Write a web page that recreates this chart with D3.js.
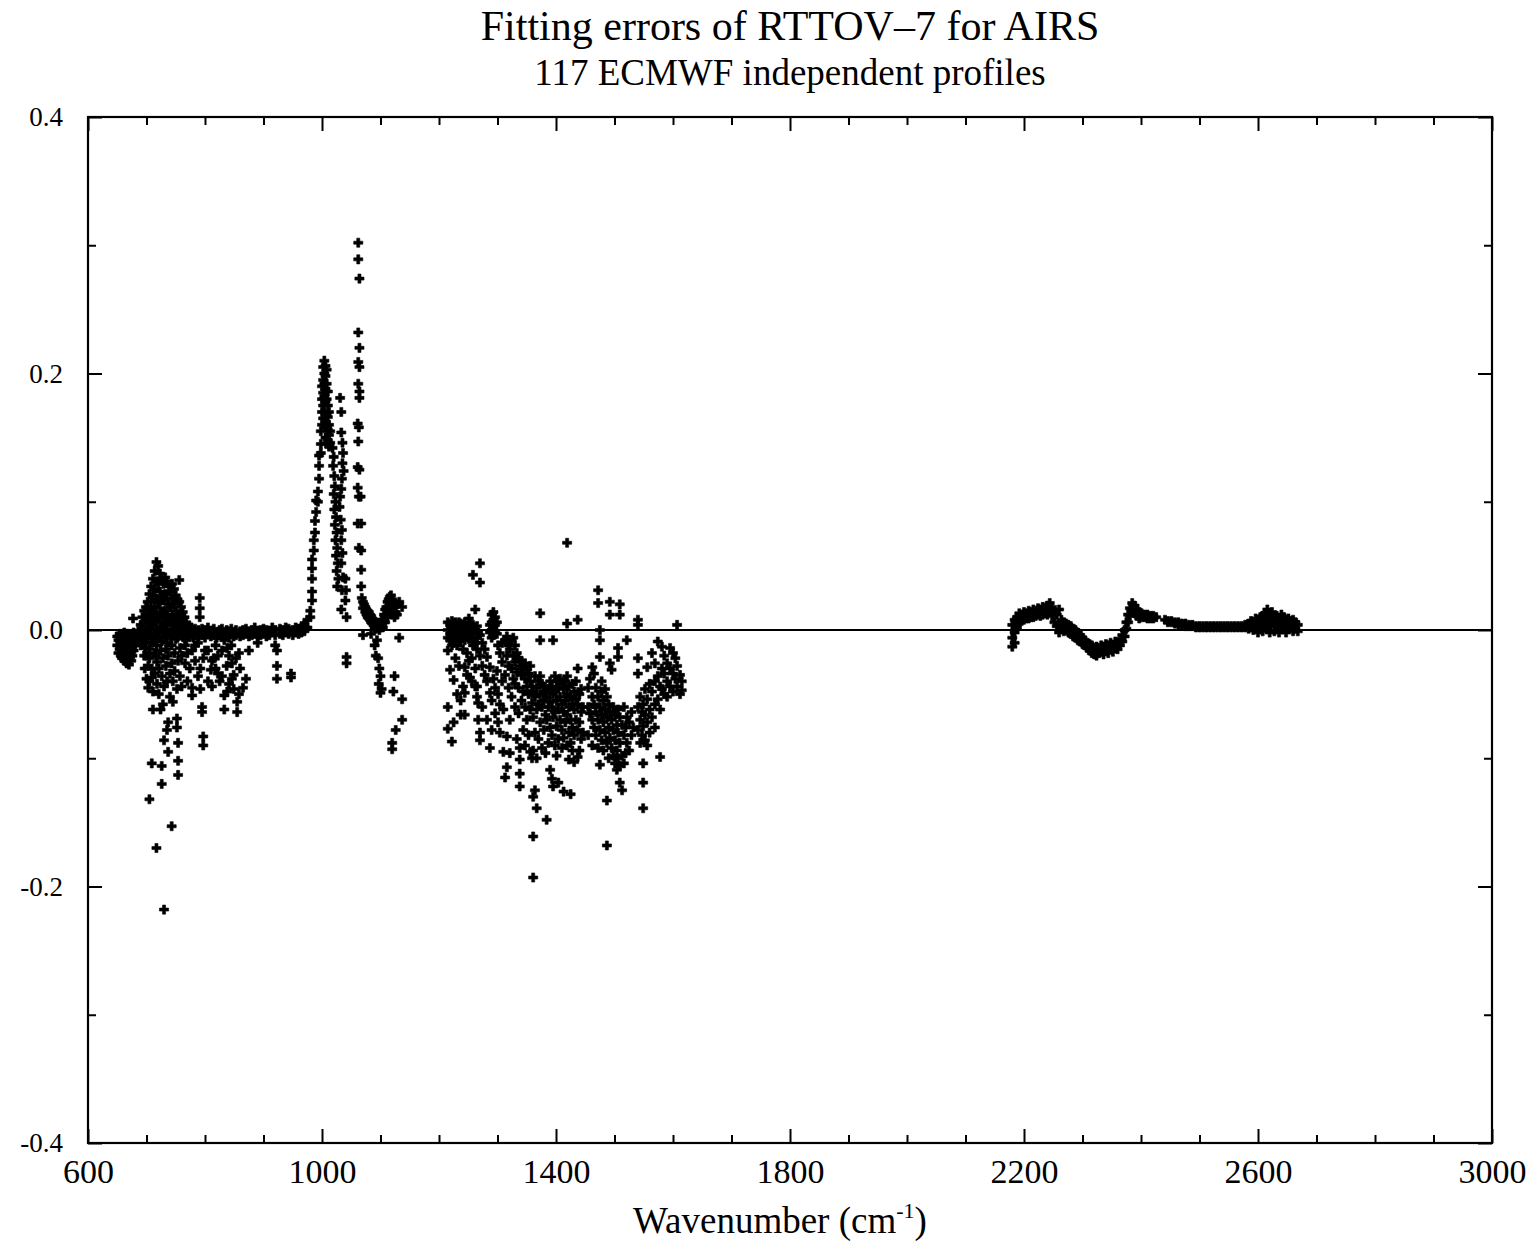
<!DOCTYPE html>
<html lang="en">

<head>
    <meta charset="utf-8">
    <title>Fitting errors of RTTOV-7 for AIRS</title>
    <script src="https://d3js.org/d3.v7.min.js"></script>
    <style>
        body {
            margin: 0;
            padding: 0;
            overflow: hidden;
            background: #fff;
        }
    </style>
</head>

<body>

    <svg id="chart"></svg>

    <script>
        // each entry: [wavenumber, [errors at that wavenumber]]
        const lwBand = [
            [650, [-0.005, -0.012]], [652, [-0.018, -0.008]], [654, [-0.003, -0.015]], [656, [-0.020, -0.010]],
            [658, [-0.004, -0.013, -0.022]], [660, [-0.008, -0.017]], [662, [-0.002, -0.012, -0.024]],
            [664, [-0.006, -0.016, -0.021]], [666, [-0.010, -0.019, -0.026]], [668, [-0.003, -0.014, -0.023]],
            [670, [-0.008, -0.018, -0.027]], [672, [-0.004, -0.012, -0.021]], [674, [-0.009, -0.017, -0.024]],
            [676, [-0.005, -0.013, -0.020]], [678, [-0.002, -0.010, -0.016]], [677, [0.009]],
            [680, [-0.006, -0.012]], [683, [-0.003, -0.009]], [686, [-0.001, -0.006]],
            [690, [0.004, -0.006, -0.012]], [693, [0.010, 0.000, -0.008]], [696, [0.015, 0.005, -0.004, -0.020]],
            [699, [0.018, 0.008, -0.002, -0.010]], [702, [0.022, 0.012, 0.002, -0.006]],
            [705, [0.028, 0.016, 0.006, -0.004, -0.015]], [708, [0.034, 0.022, 0.010, 0.000, -0.010]],
            [711, [0.040, 0.027, 0.014, 0.004, -0.006]], [714, [0.046, 0.032, 0.018, 0.008, -0.003]],
            [717, [0.053, 0.038, 0.024, 0.012, 0.001, -0.008]], [720, [0.050, 0.036, 0.021, 0.009, -0.002]],
            [723, [0.044, 0.030, 0.017, 0.006, -0.005]], [726, [0.040, 0.026, 0.013, 0.002, -0.009]],
            [729, [0.036, 0.023, 0.010, -0.001]], [732, [0.041, 0.028, 0.015, 0.004, -0.006]],
            [735, [0.038, 0.025, 0.012, 0.001, -0.010]], [738, [0.034, 0.020, 0.008, -0.003]],
            [741, [0.030, 0.018, 0.006, -0.005]], [744, [0.036, 0.024, 0.011, 0.000]],
            [747, [0.032, 0.020, 0.008, -0.004]], [750, [0.027, 0.015, 0.004, -0.007]],
            [753, [0.024, 0.012, 0.002, -0.006]], [756, [0.039, 0.022, 0.009, -0.002]],
            [759, [0.018, 0.007, -0.003]], [762, [0.014, 0.004, -0.005]], [765, [0.010, 0.001, -0.006]],
            [768, [0.006, -0.002, -0.008]], [771, [0.003, -0.004]], [774, [0.001, -0.005]], [777, [0.002, -0.003]],
            [780, [0.000, -0.006]], [783, [0.001, -0.004]], [786, [-0.002]], [789, [0.000, -0.005]],
            [791, [0.025, 0.017, 0.010]],
            // scatter below zero
            [697, [-0.014, -0.030]], [700, [-0.020, -0.038]], [703, [-0.045, -0.028]], [705, [-0.132, -0.040, -0.022]],
            [709, [-0.104, -0.037, -0.030]], [711, [-0.062, -0.048]], [714, [-0.018, -0.034]], [716, [-0.020]],
            [717, [-0.170, -0.012]], [718, [-0.025, -0.042]], [721, [-0.030, -0.050]], [724, [-0.016, -0.062]],
            [726, [-0.106, -0.120, -0.036]], [728, [-0.058, -0.022]], [730, [-0.218, -0.086, -0.044]],
            [733, [-0.015, -0.028]], [735, [-0.078, -0.040]], [737, [-0.095, -0.072, -0.020]], [740, [-0.034, -0.052]],
            [743, [-0.153, -0.012, -0.026]], [745, [-0.056, -0.040]], [748, [-0.018, -0.032]],
            [752, [-0.076, -0.069, -0.046]], [754, [-0.113, -0.102, -0.088, -0.024]], [757, [-0.036, -0.014]],
            [760, [-0.044, -0.020]], [766, [-0.012, -0.026]], [770, [-0.040, -0.018]], [774, [-0.030]],
            [778, [-0.051, -0.045, -0.016]], [783, [-0.024, -0.012]], [788, [-0.010, -0.036]],
            [792, [-0.030, -0.046]], [795, [-0.064, -0.060]], [797, [-0.083, -0.090, -0.022]],
            [805, [-0.040, -0.016]], [818, [-0.030, -0.012]], [812, [-0.024, -0.044]], [822, [-0.020, -0.034]],
            [838, [-0.014, -0.048]], [846, [-0.026, -0.038]], [858, [-0.018, -0.050]],
            // window region, near zero
            [795, [0.001, -0.004]], [800, [0.000, -0.006, -0.016]], [805, [0.002, -0.003]], [810, [-0.001, -0.005, -0.031]],
            [815, [0.001, -0.004, -0.022]], [820, [-0.002, -0.006]], [825, [0.000, -0.004, -0.040]],
            [829, [0.001, -0.005, -0.016, -0.036]], [833, [-0.002, -0.008, -0.051, -0.062]], [837, [0.000, -0.004, -0.028]],
            [841, [-0.001, -0.006, -0.020, -0.042]], [845, [0.001, -0.003, -0.012]], [849, [-0.002, -0.005, -0.035, -0.046]],
            [853, [0.000, -0.004, -0.022]], [855, [-0.056, -0.064]], [860, [-0.001, -0.005, -0.030]],
            [865, [0.000, -0.004, -0.045]], [870, [0.001, -0.003, -0.038]], [875, [-0.001, -0.005, -0.016]],
            [880, [0.000, -0.004]], [885, [0.002, -0.003]], [890, [-0.001, -0.005, -0.010]], [895, [0.000, -0.004]],
            [900, [0.001, -0.003]], [905, [0.000, -0.005]], [910, [-0.001, -0.004]], [915, [0.002, -0.002]],
            [920, [0.000, -0.004, -0.012]], [923, [-0.016, -0.028, -0.038]], [928, [0.001, -0.003]],
            [933, [0.000, -0.004]], [938, [0.002, -0.002]], [943, [0.001, -0.003]], [947, [-0.034, -0.037]],
            [950, [0.000, -0.004]], [955, [0.002, -0.002]], [960, [0.001, -0.003]], [965, [0.003, -0.002]],
            [970, [0.004, -0.001]],
            // ozone peak
            [975, [0.008, 0.002]], [980, [0.015, 0.010]], [983, [0.023, 0.030, 0.040, 0.048, 0.055]],
            [986, [0.062, 0.070]], [988, [0.076, 0.085]], [990, [0.092, 0.101]], [993, [0.100, 0.108]],
            [995, [0.118, 0.128, 0.136]], [998, [0.138, 0.145, 0.155]], [1000, [0.160, 0.170, 0.180, 0.190]],
            [1002, [0.165, 0.175, 0.185, 0.195, 0.205]], [1004, [0.170, 0.182, 0.192, 0.200, 0.210]],
            [1006, [0.150, 0.162, 0.178, 0.188, 0.198, 0.206]], [1008, [0.145, 0.158, 0.168, 0.180, 0.192, 0.203]],
            [1010, [0.148, 0.156, 0.166, 0.175, 0.186]], [1012, [0.143, 0.152, 0.160, 0.170]], [1014, [0.146, 0.155]],
            [1018, [0.142]], [1020, [0.135, 0.106]], [1019, [0.128]], [1021, [0.120, 0.094]], [1022, [0.112, 0.082]],
            [1023, [0.100, 0.070]], [1024, [0.088, 0.058]], [1025, [0.076, 0.046]], [1026, [0.064, 0.034]],
            [1027, [0.052]], [1028, [0.040]], [1031, [0.181, 0.104]], [1033, [0.170, 0.154, 0.110, 0.070, 0.052, 0.016]],
            [1035, [0.146, 0.130, 0.060]], [1036, [0.138, 0.041]], [1037, [0.124]], [1034, [0.118, 0.078, 0.031]],
            [1030, [0.096]], [1032, [0.086]], [1040, [0.040, 0.023]], [1041, [0.031]], [1042, [0.010, -0.021, -0.026]],
            [1062, [0.302, 0.289, 0.232, 0.209, 0.192, 0.147]], [1064, [0.274, 0.220, 0.205, 0.186, 0.181, 0.125]],
            [1061, [0.161, 0.127, 0.111, 0.083]], [1063, [0.158, 0.104, 0.064]], [1066, [0.104]],
            [1067, [0.083, 0.062, 0.047, 0.034]],
            [1068, [0.025]], [1070, [0.022, 0.017, -0.004]], [1072, [0.020]], [1074, [0.018, 0.014]], [1076, [0.016, 0.012]],
            [1078, [0.015, 0.010]], [1080, [0.014, 0.009]], [1082, [0.012, 0.008]], [1084, [0.011, 0.006, -0.003]],
            [1086, [0.009, 0.005]], [1088, [0.008, 0.004]], [1090, [0.006, 0.002, -0.012]], [1092, [0.005, 0.001, -0.020]],
            [1094, [0.003, -0.008]], [1096, [0.002, -0.022]], [1098, [0.000, 0.004, -0.030]], [1100, [0.002, -0.036, -0.049]],
            [1097, [-0.042]], [1102, [0.004, 0.008, -0.046]], [1104, [0.008, 0.002]], [1106, [0.012, 0.006]],
            [1108, [0.016, 0.006]], [1110, [0.018, 0.010]], [1112, [0.022, 0.010]], [1114, [0.024, 0.014]],
            [1116, [0.026, 0.016]], [1118, [0.027, 0.018]], [1120, [0.024, 0.012, -0.088, -0.093]],
            [1122, [0.020, 0.014, -0.048]], [1124, [0.018, 0.010, -0.036]], [1126, [0.014, -0.078]],
            [1128, [0.012, 0.020]], [1132, [-0.006, 0.022]], [1137, [0.018, -0.054, -0.070]]
        ];

        const mwBand = [
            [1215, [0.006, 0.000, -0.006, -0.016, -0.060, -0.077]], [1219, [0.004, -0.003, -0.008, -0.031]],
            [1222, [0.007, 0.001, -0.005, -0.012, -0.087]], [1225, [0.005, -0.002, -0.010, -0.039, -0.072]],
            [1228, [0.006, 0.000, -0.007, -0.022]], [1231, [0.003, -0.004, -0.012, -0.050]],
            [1234, [0.006, 0.001, -0.006, -0.028]], [1237, [0.005, -0.002, -0.009, -0.055, -0.066]],
            [1241, [0.004, -0.004, -0.015, -0.044]], [1244, [0.006, 0.000, -0.008, -0.029, -0.049, -0.066]],
            [1248, [0.003, -0.005, -0.018, -0.035]], [1251, [0.009, 0.001, -0.007, -0.024]],
            [1253, [0.005, -0.003, -0.037]], [1256, [0.002, -0.006, -0.022, -0.040]],
            [1258, [0.043, 0.004, -0.002, -0.012]], [1262, [0.016, 0.000, -0.010, -0.030, -0.044]],
            [1265, [0.003, -0.006, -0.015, -0.044, -0.052]], [1267, [-0.002, -0.057, -0.070]],
            [1270, [0.052, 0.037, -0.004, -0.020, -0.080, -0.086]], [1274, [-0.010, -0.028, -0.060]],
            [1278, [-0.015, -0.035]], [1282, [-0.021, -0.040, -0.070]], [1287, [0.004, -0.002, -0.029, -0.049, -0.092]],
            [1290, [0.012, 0.006, 0.000, -0.006, -0.078, -0.055]], [1293, [0.014, 0.008, 0.002, -0.004, -0.038]],
            [1296, [0.010, 0.004, -0.002, -0.065, -0.045]], [1299, [0.006, -0.003, -0.032]],
            [1301, [-0.072, -0.050, -0.012]], [1304, [-0.080, -0.058, -0.018]], [1308, [-0.040, -0.025, -0.010]],
            [1310, [-0.095, -0.062]], [1313, [-0.115, -0.035, -0.008]], [1316, [-0.107, -0.083, -0.020, -0.005]],
            [1319, [-0.045, -0.028, -0.012]], [1321, [-0.096, -0.070, -0.015]], [1324, [-0.052, -0.030, -0.008]],
            [1327, [-0.038, -0.020, -0.006]], [1330, [-0.060, -0.042, -0.025, -0.012]],
            [1333, [-0.085, -0.033, -0.018]], [1336, [-0.065, -0.045, -0.022]],
            [1338, [-0.122, -0.112, -0.101, -0.092, -0.028]], [1341, [-0.055, -0.035, -0.024]],
            [1344, [-0.078, -0.048, -0.030]], [1347, [-0.090, -0.060, -0.038, -0.026]],
            [1350, [-0.070, -0.044, -0.031]], [1353, [-0.082, -0.050, -0.034]],
            [1356, [-0.095, -0.062, -0.040, -0.028]], [1359, [-0.100, -0.057, -0.044]],
            [1361, [-0.193, -0.161, -0.130, -0.094, -0.068, -0.048]], [1364, [-0.125, -0.080, -0.052, -0.036]],
            [1367, [-0.139, -0.100, -0.062, -0.045]], [1370, [-0.085, -0.058, -0.040]],
            [1373, [0.013, -0.008, -0.072, -0.050, -0.036]], [1376, [-0.092, -0.060, -0.042]],
            [1379, [-0.078, -0.055, -0.044]], [1382, [-0.096, -0.066, -0.048]], [1384, [-0.148, -0.070, -0.052]],
            [1387, [-0.088, -0.060, -0.046]], [1390, [-0.109, -0.076, -0.056, -0.040]],
            [1393, [-0.116, -0.082, -0.060, -0.044]], [1395, [-0.008, -0.122, -0.068, -0.050]],
            [1398, [-0.090, -0.064, -0.048, -0.036]], [1401, [-0.098, -0.075, -0.055, -0.040]],
            [1404, [-0.119, -0.085, -0.062, -0.045]], [1407, [-0.070, -0.052, -0.038]],
            [1410, [-0.092, -0.078, -0.058, -0.042]], [1413, [-0.126, -0.084, -0.064, -0.046]],
            [1416, [-0.072, -0.055, -0.040]], [1419, [0.068, 0.005, -0.090, -0.066, -0.050, -0.036]],
            [1422, [-0.101, -0.080, -0.060, -0.044]], [1425, [-0.128, -0.088, -0.070, -0.052]],
            [1428, [-0.094, -0.076, -0.058, -0.042]], [1431, [-0.103, -0.082, -0.062, -0.048]],
            [1434, [-0.070, -0.054, -0.040]], [1437, [0.008, -0.030, -0.099, -0.078, -0.058]],
            [1440, [-0.094, -0.072, -0.050]], [1443, [-0.085, -0.064, -0.046]], [1446, [-0.080, -0.060]],
            [1455, [-0.082, -0.060, -0.045]], [1458, [-0.065, -0.038]], [1462, [-0.029, -0.090, -0.070, -0.052]],
            [1465, [-0.034, -0.076, -0.058]], [1468, [-0.082, -0.064, -0.045]],
            [1472, [0.031, 0.021, -0.092, -0.070, -0.052]], [1475, [0.000, -0.008, -0.021, -0.105, -0.078, -0.060]],
            [1478, [-0.086, -0.066, -0.048, -0.040]], [1481, [-0.094, -0.072, -0.055]],
            [1484, [-0.080, -0.062, -0.046]], [1487, [-0.168, -0.133, -0.088, -0.068, -0.052]],
            [1490, [-0.100, -0.076, -0.058]], [1492, [0.022, 0.012, -0.026, -0.084, -0.064]],
            [1495, [-0.092, -0.070, -0.031]], [1498, [-0.098, -0.078, -0.060]], [1501, [-0.104, -0.086, -0.066]],
            [1504, [-0.109, -0.094, -0.074]], [1506, [-0.021, -0.014, -0.100, -0.080, -0.062]],
            [1509, [0.020, 0.012, -0.119, -0.106, -0.088, -0.068]], [1513, [-0.125, -0.098, -0.074]],
            [1516, [-0.104, -0.082, -0.060]], [1519, [-0.096, -0.076]], [1521, [-0.008, -0.088, -0.068]],
            [1525, [-0.094, -0.072]], [1529, [-0.082, -0.064]], [1532, [-0.076]],
            [1540, [0.008, 0.004, -0.022, -0.034, -0.060, -0.078]], [1544, [-0.052, -0.070, -0.088]],
            [1547, [-0.064, -0.082]], [1549, [-0.104, -0.119, -0.139, -0.058, -0.075]],
            [1552, [-0.046, -0.066, -0.086]], [1556, [-0.029, -0.054, -0.072, -0.090]],
            [1560, [-0.042, -0.062, -0.080]], [1564, [-0.018, -0.048, -0.068]],
            [1569, [-0.026, -0.040, -0.058, -0.076]], [1574, [-0.009, -0.036, -0.054]],
            [1578, [-0.099, -0.044, -0.062]], [1581, [-0.013, -0.030, -0.046]], [1585, [-0.020, -0.034, -0.050]],
            [1590, [-0.026, -0.040, -0.052]], [1595, [-0.014, -0.030, -0.044]], [1600, [-0.018, -0.034, -0.048]],
            [1604, [-0.022, -0.038]], [1607, [0.004, -0.028, -0.044]], [1612, [-0.035, -0.050]], [1615, [-0.040, -0.047]]
        ];

        const swBand = [
            [2180, [0.004, -0.006, -0.013]], [2184, [0.008, -0.002, -0.010]], [2188, [0.010, 0.002]],
            [2192, [0.013, 0.006]], [2196, [0.012, 0.007]], [2200, [0.014, 0.008]], [2204, [0.013, 0.009]],
            [2208, [0.015, 0.009]], [2212, [0.014, 0.010]], [2216, [0.016, 0.010]], [2220, [0.015, 0.011]],
            [2224, [0.017, 0.012]], [2228, [0.016, 0.011]], [2232, [0.018, 0.012]], [2236, [0.017, 0.013]],
            [2240, [0.019, 0.012]], [2244, [0.021, 0.015]], [2248, [0.018, 0.011]], [2252, [0.014, 0.006]],
            [2256, [0.012, 0.003]], [2260, [0.016, 0.005, -0.002]], [2264, [0.008, 0.001]], [2268, [0.006, -0.001]],
            [2272, [0.005, 0.000]], [2276, [0.004, -0.002]], [2280, [0.003, -0.003]], [2284, [0.001, -0.005]],
            [2288, [0.000, -0.006]], [2292, [-0.002, -0.008]], [2296, [-0.004, -0.009]], [2300, [-0.006, -0.011]],
            [2304, [-0.008, -0.012]], [2308, [-0.010, -0.014]], [2312, [-0.011, -0.016]], [2316, [-0.012, -0.018]],
            [2320, [-0.014, -0.019]], [2324, [-0.013, -0.020]], [2328, [-0.014, -0.018]], [2332, [-0.012, -0.017]],
            [2336, [-0.013, -0.019]], [2340, [-0.011, -0.016]], [2344, [-0.012, -0.018]], [2348, [-0.010, -0.015]],
            [2352, [-0.012, -0.017]], [2356, [-0.009, -0.014]], [2360, [-0.010, -0.015]], [2364, [-0.007, -0.012]],
            [2368, [-0.004, -0.009]], [2372, [0.000, -0.005]], [2375, [0.006, 0.001]], [2378, [0.012, 0.006]],
            [2381, [0.017, 0.011]], [2385, [0.021, 0.016]], [2389, [0.019, 0.013]], [2393, [0.016, 0.011]],
            [2397, [0.014, 0.009]], [2401, [0.013, 0.010]], [2406, [0.012, 0.010]], [2411, [0.012, 0.009]],
            [2416, [0.011, 0.009]], [2421, [0.011, 0.009]], [2426, [0.010]],
            [2441, [0.008]], [2446, [0.007, 0.006]], [2452, [0.007, 0.006]], [2458, [0.006, 0.005]],
            [2464, [0.006, 0.004]], [2470, [0.005, 0.004]], [2476, [0.005, 0.003]], [2482, [0.004, 0.003]],
            [2488, [0.004, 0.003]], [2494, [0.003, 0.002]], [2500, [0.003, 0.002]], [2506, [0.003, 0.002]],
            [2512, [0.003, 0.002]], [2518, [0.003, 0.002]], [2524, [0.003, 0.002]], [2530, [0.003, 0.002]],
            [2536, [0.003, 0.002]], [2542, [0.003, 0.002]], [2548, [0.003, 0.002]], [2554, [0.003, 0.002]],
            [2560, [0.003, 0.002]], [2566, [0.003, 0.002]], [2572, [0.003, 0.002]], [2578, [0.004, 0.002]],
            [2584, [0.005, 0.001]], [2588, [0.007, 0.002]], [2592, [0.006, 0.000]], [2596, [0.009, 0.003]],
            [2600, [0.008, 0.001, -0.002]], [2604, [0.010, 0.004]], [2608, [0.011, 0.003, -0.001]],
            [2612, [0.013, 0.006]], [2616, [0.016, 0.008, 0.001]], [2620, [0.012, 0.004, -0.002]],
            [2624, [0.014, 0.007]], [2628, [0.010, 0.003, -0.001]], [2632, [0.011, 0.005]],
            [2636, [0.009, 0.002, -0.002]], [2640, [0.012, 0.006]], [2644, [0.010, 0.003]],
            [2648, [0.008, 0.001, -0.002]], [2652, [0.009, 0.004]], [2656, [0.007, 0.002]],
            [2660, [0.008, 0.002, -0.001]], [2664, [0.006, 0.001]], [2668, [0.004, -0.001]]
        ];

        const xMajorTicks = [600, 1000, 1400, 1800, 2200, 2600, 3000];
        const yMajorTicks = [-0.4, -0.2, 0.0, 0.2, 0.4];
        const yMinorTicks = [-0.3, -0.1, 0.1, 0.3];

        const titleText = "Fitting errors of RTTOV\u20137 for AIRS";
        const subtitleText = "117 ECMWF independent profiles";

        const width = 1537;
        const height = 1244;
        const font = "'Liberation Serif', 'Times New Roman', serif";

        const svg = d3.select("#chart")
            .attr("width", width)
            .attr("height", height)
            .style("background", "#fff");

        const x = d3.scaleLinear().domain([600, 3000]).range([88, 1492]);
        const y = d3.scaleLinear().domain([-0.4, 0.4]).range([1143, 117]);

        const points = [lwBand, mwBand, swBand]
            .flatMap(band => band.flatMap(([w, vals]) => vals.map(v => [w, v])));

        // axes, ticks point inward
        function styleAxis(g) {
            g.select(".domain").remove();
            g.selectAll("line").attr("stroke", "#000").attr("stroke-width", 2);
            g.selectAll("text").attr("font-family", font).attr("fill", "#000");
        }

        const xMinor = d3.range(700, 3000, 100).filter(d => !xMajorTicks.includes(d));

        svg.append("g").attr("transform", "translate(0,1143)")
            .call(d3.axisBottom(x).tickValues(xMajorTicks).tickSize(-14).tickPadding(16).tickFormat(d3.format("d")))
            .call(styleAxis)
            .selectAll("text").attr("font-size", 34);
        svg.append("g").attr("transform", "translate(0,1143)")
            .call(d3.axisBottom(x).tickValues(xMinor).tickSize(-8).tickFormat(""))
            .call(styleAxis);
        svg.append("g").attr("transform", "translate(0,117)")
            .call(d3.axisTop(x).tickValues(xMajorTicks).tickSize(-14).tickFormat(""))
            .call(styleAxis);
        svg.append("g").attr("transform", "translate(0,117)")
            .call(d3.axisTop(x).tickValues(xMinor).tickSize(-8).tickFormat(""))
            .call(styleAxis);

        svg.append("g").attr("transform", "translate(88,0)")
            .call(d3.axisLeft(y).tickValues(yMajorTicks).tickSize(-14).tickPadding(25).tickFormat(d3.format(".1f")))
            .call(styleAxis)
            .selectAll("text").attr("font-size", 27).text(d => d3.format(".1f")(d).replace("\u2212", "-"));
        svg.append("g").attr("transform", "translate(88,0)")
            .call(d3.axisLeft(y).tickValues(yMinorTicks).tickSize(-8).tickFormat(""))
            .call(styleAxis);
        svg.append("g").attr("transform", "translate(1492,0)")
            .call(d3.axisRight(y).tickValues(yMajorTicks).tickSize(-14).tickFormat(""))
            .call(styleAxis);
        svg.append("g").attr("transform", "translate(1492,0)")
            .call(d3.axisRight(y).tickValues(yMinorTicks).tickSize(-8).tickFormat(""))
            .call(styleAxis);

        // frame
        svg.append("rect")
            .attr("x", x(600)).attr("y", y(0.4))
            .attr("width", x(3000) - x(600)).attr("height", y(-0.4) - y(0.4))
            .attr("fill", "none").attr("stroke", "#000").attr("stroke-width", 2.2);

        // zero line
        svg.append("line")
            .attr("x1", x(600)).attr("x2", x(3000))
            .attr("y1", y(0)).attr("y2", y(0))
            .attr("stroke", "#000").attr("stroke-width", 2);

        // points: heavy "+" markers
        const cross = d3.symbol(d3.symbolCross).size(46);
        svg.append("g")
            .attr("fill", "#000")
            .attr("stroke", "#000")
            .attr("stroke-width", 0.6)
            .selectAll("path")
            .data(points)
            .join("path")
            .attr("transform", d => `translate(${x(d[0])},${y(d[1])})`)
            .attr("d", cross);

        // titles
        svg.append("text")
            .attr("x", 790).attr("y", 40)
            .attr("text-anchor", "middle")
            .attr("font-family", font).attr("font-size", 42)
            .text(titleText);
        svg.append("text")
            .attr("x", 790).attr("y", 85)
            .attr("text-anchor", "middle")
            .attr("font-family", font).attr("font-size", 37)
            .text(subtitleText);

        const xTitle = svg.append("text")
            .attr("x", 780).attr("y", 1233)
            .attr("text-anchor", "middle")
            .attr("font-family", font).attr("font-size", 37);
        xTitle.append("tspan").text("Wavenumber (cm");
        xTitle.append("tspan").attr("font-size", 22).attr("dy", -15).text("-1");
        xTitle.append("tspan").attr("dy", 15).text(")");
    </script>
</body>

</html>
